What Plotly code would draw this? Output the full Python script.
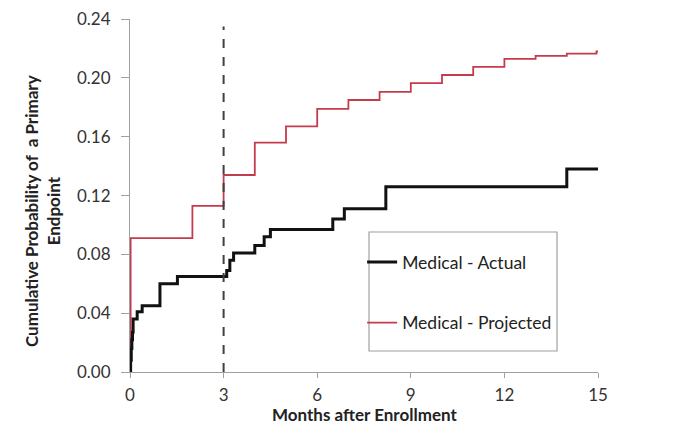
import plotly.graph_objects as go

# Medical - Actual (step function)
actual_months = [0, 0.02, 0.04, 0.06, 0.08, 0.10, 0.23, 0.39, 0.96, 1.52, 3.10, 3.20, 3.32, 4.00, 4.30, 4.50, 6.50, 6.87, 8.20, 14.0, 15.0]
actual_prob = [0, 0.008, 0.016, 0.022, 0.027, 0.036, 0.041, 0.045, 0.060, 0.065, 0.069, 0.076, 0.081, 0.086, 0.092, 0.097, 0.104, 0.111, 0.126, 0.138, 0.138]

# Medical - Projected (step function)
proj_months = [0, 0.02, 2.0, 3.0, 4.0, 5.0, 6.0, 7.0, 8.0, 9.0, 10.0, 11.0, 12.0, 13.0, 14.0, 14.95, 15.0]
proj_prob = [0, 0.091, 0.113, 0.134, 0.156, 0.167, 0.179, 0.185, 0.1905, 0.1965, 0.202, 0.2075, 0.213, 0.215, 0.2165, 0.218, 0.2185]

x_ticks = [0, 3, 6, 9, 12, 15]
y_ticks = [0.00, 0.04, 0.08, 0.12, 0.16, 0.20, 0.24]
cutoff_month = 3
cutoff_top = 0.235

FONT = "Lato, 'Open Sans', sans-serif"
AXIS_GRAY = "#a0a0a0"

fig = go.Figure()
fig.add_trace(go.Scatter(
    x=proj_months, y=proj_prob, mode="lines", line=dict(shape="hv", color="#c43c4c", width=1.8),
    name="Medical - Projected", legendgroup="b", legendrank=2))
fig.add_trace(go.Scatter(
    x=actual_months, y=actual_prob, mode="lines", line=dict(shape="hv", color="#111111", width=3),
    name="Medical - Actual", legendgroup="a", legendrank=1))

fig.add_shape(type="line", xref="x", yref="y", x0=cutoff_month, x1=cutoff_month, y0=0, y1=cutoff_top,
              line=dict(color="#404040", width=2, dash="dash"))

# legend frame
fig.add_shape(type="rect", xref="paper", yref="paper", x0=0.5107, x1=0.9124, y0=0.0595, y1=0.3966,
              line=dict(color="#a0a0a0", width=1.2), fillcolor="white", layer="below")

fig.add_annotation(text="<b>Cumulative Probability of  a Primary<br>Endpoint</b>",
                   xref="paper", yref="paper", x=-0.188, y=0.456, xanchor="center", yanchor="middle",
                   textangle=-90, showarrow=False, font=dict(family=FONT, size=17, color="#222222"))
fig.add_annotation(text="<b>Months after Enrollment</b>",
                   xref="paper", yref="paper", x=0.5, y=-0.119, xanchor="center", yanchor="middle",
                   showarrow=False, font=dict(family=FONT, size=17, color="#222222"))

fig.update_layout(
    width=675, height=428,
    margin=dict(l=122, r=85, t=11, b=64, autoexpand=False),
    paper_bgcolor="white", plot_bgcolor="white",
    font=dict(family=FONT, color="#333333", size=17),
    showlegend=True,
    legend=dict(x=0.496, y=0.2252, xanchor="left", yanchor="middle",
                borderwidth=0, bgcolor="rgba(0,0,0,0)",
                font=dict(family=FONT, size=17.5, color="#222222"), tracegroupgap=35,
                traceorder="grouped"),
    xaxis=dict(range=[0, 15], tickvals=x_ticks, ticktext=[str(v) for v in x_ticks],
               showgrid=False, zeroline=False, showline=True, linecolor=AXIS_GRAY, linewidth=1,
               ticks="outside", ticklen=5, tickcolor=AXIS_GRAY, automargin=False,
               ticklabelstandoff=3, ticklabeloverflow="allow",
               tickfont=dict(family=FONT, size=17, color="#333333")),
    yaxis=dict(range=[0, 0.2401], tickvals=y_ticks, ticktext=["%.2f" % v for v in y_ticks],
               showgrid=False, zeroline=False, showline=True, linecolor=AXIS_GRAY, linewidth=1,
               ticks="outside", ticklen=8, tickcolor=AXIS_GRAY, automargin=False,
               ticklabelstandoff=7, ticklabeloverflow="allow",
               tickfont=dict(family=FONT, size=17, color="#333333")),
)

fig.write_html("out.html")
